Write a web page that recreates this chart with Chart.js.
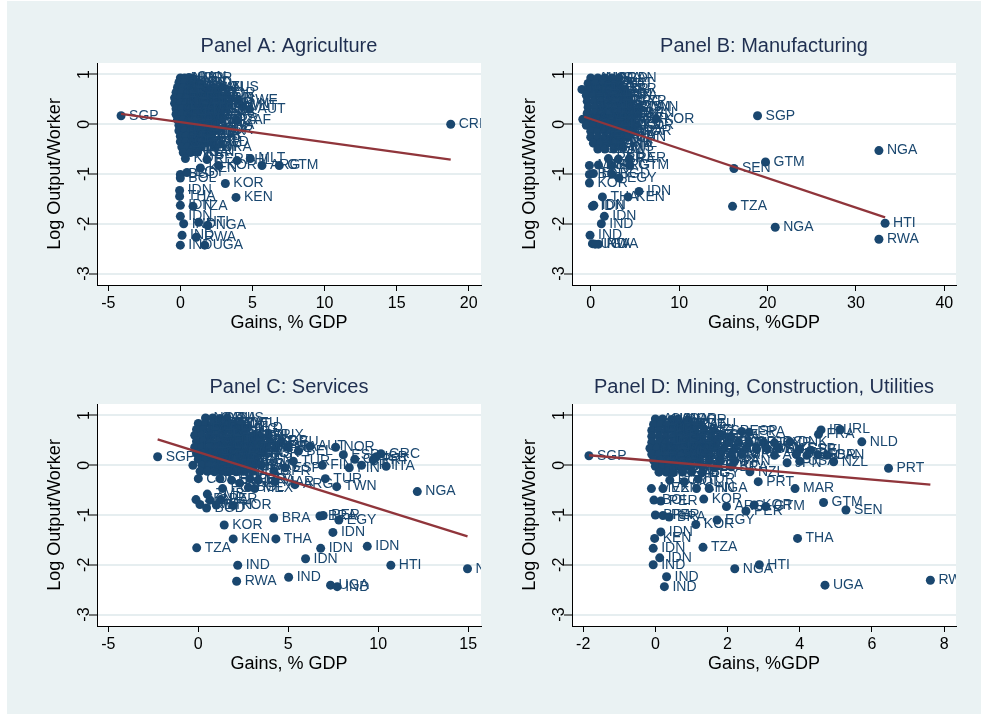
<!DOCTYPE html>
<html>
<head>
<meta charset="utf-8">
<script src="https://cdn.jsdelivr.net/npm/chart.js@4.4.1/dist/chart.umd.min.js"></script>
<style>
  body { margin: 0; background: #fff; }
  #wrap { position: absolute; left: 7px; top: 1px; width: 974px; height: 713px; background: #eaf2f3; }
  canvas { position: absolute; }
</style>
</head>
<body>
<div id="wrap"></div>
<canvas id="panelA" width="490" height="357" style="left:0px;top:0px"></canvas>
<canvas id="panelB" width="490" height="357" style="left:475px;top:0px"></canvas>
<canvas id="panelC" width="490" height="357" style="left:0px;top:341px"></canvas>
<canvas id="panelD" width="490" height="357" style="left:475px;top:341px"></canvas>
<script>
// tick labels
const yTicks = [-3, -2, -1, 0, 1];
const agriTicks = [-5, 0, 5, 10, 15, 20];
const manuTicks = [0, 10, 20, 30, 40];
const servTicks = [-5, 0, 5, 10, 15];
const minTicks = [-2, 0, 2, 4, 6, 8];

// [gain % GDP, log output/worker, country]
const agriPts = [
  [-4.11, 0.17, "SGP"], [18.75, 0.0, "CRI"],
  [0.0, 0.93, "AUS"], [0.3, 0.93, "NOR"], [0.6, 0.94, "CAN"], [0.9, 0.92, "NOR"],
  [-0.1, 0.84, "USA"], [0.3, 0.84, "NLD"], [0.7, 0.83, "AUS"], [1.1, 0.84, "NLD"],
  [-0.2, 0.74, "GBR"], [0.2, 0.74, "DNK"], [0.6, 0.73, "FRA"], [1.0, 0.74, "BEL"], [1.4, 0.75, "USA"], [1.8, 0.73, "CAN"], [2.3, 0.74, "NZL"], [2.9, 0.75, "AUS"],
  [-0.3, 0.64, "DEU"], [0.1, 0.64, "JPN"], [0.5, 0.63, "FIN"], [0.9, 0.64, "SWE"], [1.3, 0.64, "ITA"], [1.7, 0.63, "ISR"], [2.1, 0.64, "IRL"], [2.5, 0.63, "NOR"],
  [-0.4, 0.53, "HKG"], [0.0, 0.53, "ESP"], [0.4, 0.52, "AUT"], [0.8, 0.53, "DNK"], [1.2, 0.53, "FRA"], [1.6, 0.52, "GBR"], [2.0, 0.53, "BEL"], [2.5, 0.52, "NLD"], [3.0, 0.53, "FIN"], [4.0, 0.49, "SWE"],
  [-0.4, 0.42, "TWN"], [0.0, 0.42, "KOR"], [0.4, 0.42, "ITA"], [0.8, 0.41, "ESP"], [1.2, 0.42, "GRC"], [1.6, 0.42, "PRT"], [2.0, 0.41, "JPN"], [2.4, 0.42, "DEU"], [2.9, 0.42, "ISR"], [3.4, 0.41, "TWN"],
  [-0.3, 0.31, "CHL"], [0.1, 0.31, "MEX"], [0.5, 0.31, "ARG"], [0.9, 0.3, "URY"], [1.3, 0.31, "GRC"], [1.7, 0.31, "MYS"], [2.1, 0.3, "PRT"], [2.6, 0.31, "ESP"], [3.1, 0.31, "IRL"], [4.3, 0.36, "MLT"], [4.8, 0.3, "AUT"],
  [-0.3, 0.2, "VEN"], [0.1, 0.2, "ZAF"], [0.5, 0.2, "MUS"], [0.9, 0.19, "CHL"], [1.3, 0.2, "BWA"], [1.7, 0.2, "MEX"], [2.2, 0.19, "URY"], [2.7, 0.2, "ARG"],
  [-0.2, 0.09, "COL"], [0.2, 0.09, "BRA"], [0.6, 0.08, "TUR"], [1.0, 0.09, "CRI"], [1.4, 0.09, "MYS"], [1.8, 0.08, "VEN"], [2.3, 0.09, "COL"], [2.8, 0.09, "BRA"], [3.9, 0.08, "ZAF"],
  [-0.1, -0.02, "THA"], [0.3, -0.02, "PER"], [0.7, -0.03, "TUR"], [1.1, -0.02, "ECU"], [1.5, -0.02, "CRI"], [1.9, -0.03, "MUS"], [2.4, -0.02, "BWA"],
  [-0.1, -0.13, "PHL"], [0.3, -0.13, "MAR"], [0.7, -0.14, "EGY"], [1.1, -0.13, "CHN"], [1.5, -0.13, "THA"], [2.0, -0.14, "PER"], [2.4, -0.11, "KOR"],
  [0.0, -0.24, "BOL"], [0.4, -0.24, "LKA"], [0.8, -0.25, "PAK"], [1.2, -0.24, "GHA"], [1.6, -0.24, "ZMB"], [2.0, -0.25, "PHL"],
  [0.0, -0.35, "MAR"], [0.4, -0.35, "CHN"], [0.8, -0.36, "IND"], [1.2, -0.35, "EGY"], [1.6, -0.35, "BOL"], [2.1, -0.36, "BGD"],
  [0.1, -0.46, "SEN"], [0.5, -0.46, "GHA"], [0.9, -0.47, "ZMB"], [1.4, -0.46, "MWI"], [2.4, -0.46, "BRA"],
  [0.2, -0.57, "ETH"], [0.7, -0.57, "NGA"], [1.2, -0.56, "KEN"],
  [0.35, -0.69, "KOR"], [1.85, -0.71, "PER"], [3.93, -0.73, "PHL"], [4.85, -0.69, "MLT"],
  [2.65, -0.83, "KOR"], [5.66, -0.83, "ARG"], [6.86, -0.83, "GTM"], [1.39, -0.88, "KEN"],
  [0.0, -1.01, "BGD"], [0.46, -0.97, "EGY"], [0.0, -1.08, "BOL"],
  [3.12, -1.19, "KOR"], [3.86, -1.47, "KEN"],
  [-0.05, -1.33, "IDN"], [-0.05, -1.45, "THA"], [0.0, -1.63, "IDN"], [0.88, -1.65, "TZA"],
  [0.0, -1.85, "IDN"], [0.23, -2.0, "IND"], [1.27, -1.97, "HTI"], [1.9, -2.03, "NGA"],
  [0.12, -2.23, "IND"], [1.1, -2.27, "RWA"], [0.0, -2.43, "IND"], [1.69, -2.43, "UGA"]
];
const agriFit = [[-4.11, 0.21], [18.75, -0.71]];

const manuPts = [
  [18.87, 0.17, "SGP"], [32.6, -0.53, "NGA"], [19.77, -0.76, "GTM"], [16.2, -0.89, "SEN"],
  [16.04, -1.65, "TZA"], [20.87, -2.07, "NGA"], [33.3, -1.99, "HTI"], [32.6, -2.31, "RWA"],
  [7.38, 0.11, "KOR"],
  [0.0, 0.93, "AUS"], [0.8, 0.93, "NOR"], [1.6, 0.93, "USA"], [2.4, 0.93, "NLD"], [3.2, 0.93, "CAN"],
  [-0.3, 0.82, "DNK"], [0.5, 0.82, "SWE"], [1.3, 0.82, "BEL"], [2.1, 0.82, "FRA"], [3.0, 0.82, "AUT"],
  [-1.0, 0.7, "IRL"], [-0.2, 0.7, "JPN"], [0.6, 0.7, "FIN"], [1.4, 0.7, "DEU"], [2.2, 0.7, "GBR"], [3.0, 0.7, "ITA"], [3.9, 0.7, "ISR"],
  [-0.5, 0.58, "HKG"], [0.3, 0.58, "NZL"], [1.1, 0.58, "ESP"], [1.9, 0.58, "AUS"], [2.7, 0.58, "DNK"], [3.5, 0.58, "FIN"], [4.3, 0.58, "ITA"],
  [-0.4, 0.46, "FRA"], [0.4, 0.46, "BEL"], [1.2, 0.46, "GBR"], [2.0, 0.46, "JPN"], [2.8, 0.46, "ESP"], [3.6, 0.46, "GRC"], [4.4, 0.46, "CYP"],
  [-0.3, 0.34, "NOR"], [0.5, 0.34, "DEU"], [1.3, 0.34, "PRT"], [2.1, 0.34, "GRC"], [2.9, 0.34, "ISR"], [3.7, 0.34, "MYS"], [4.5, 0.34, "TWN"], [5.4, 0.34, "TWN"],
  [-0.4, 0.22, "AUT"], [0.4, 0.22, "CHL"], [1.2, 0.22, "MEX"], [2.0, 0.22, "URY"], [2.8, 0.22, "ARG"], [3.6, 0.22, "VEN"], [4.4, 0.22, "ZAF"], [5.2, 0.22, "BRN"],
  [-0.9, 0.1, "SWE"], [-0.1, 0.1, "ARG"], [0.7, 0.1, "ZAF"], [1.5, 0.1, "MUS"], [2.3, 0.1, "BWA"], [3.1, 0.1, "CHL"], [3.9, 0.1, "MEX"], [4.7, 0.1, "TUR"],
  [-0.5, -0.02, "URY"], [0.3, -0.02, "BRA"], [1.1, -0.02, "COL"], [1.9, -0.02, "TUR"], [2.7, -0.02, "CRI"], [3.5, -0.02, "MYS"], [4.3, -0.02, "COL"], [5.1, -0.02, "KOR"],
  [0.0, -0.14, "VEN"], [0.8, -0.14, "CRI"], [1.6, -0.14, "THA"], [2.4, -0.14, "ECU"], [3.2, -0.14, "PER"], [4.0, -0.14, "BRA"], [4.8, -0.14, "KOR"],
  [0.0, -0.26, "PHL"], [0.8, -0.26, "MAR"], [1.6, -0.26, "EGY"], [2.4, -0.26, "CHN"], [3.2, -0.26, "THA"], [4.2, -0.26, "CHN"],
  [0.3, -0.38, "BOL"], [1.1, -0.38, "LKA"], [1.9, -0.38, "PAK"], [2.7, -0.38, "ZMB"], [3.5, -0.38, "PHL"],
  [0.8, -0.5, "GHA"], [1.6, -0.5, "SEN"], [2.6, -0.5, "MWI"], [3.6, -0.47, "INS"],
  [2.0, -0.69, "PER"], [3.13, -0.7, "BRA"], [4.37, -0.69, "PER"],
  [-0.15, -0.83, "MAR"], [0.87, -0.82, "PHL"], [2.37, -0.83, "ARG"], [4.44, -0.83, "GTM"],
  [-0.15, -1.01, "BOL"], [0.3, -0.99, "EGY"], [2.37, -1.0, "BGD"], [3.2, -1.08, "EGY"],
  [-0.15, -1.18, "KOR"], [5.46, -1.35, "IDN"], [1.32, -1.46, "THA"], [4.22, -1.46, "KEN"],
  [0.19, -1.65, "IDN"], [0.35, -1.63, "IDN"], [1.54, -1.85, "IDN"], [1.2, -2.0, "IND"],
  [-0.08, -2.23, "IND"], [0.19, -2.4, "UGA"], [0.87, -2.41, "RWA"], [0.5, -2.41, "IND"]
];
const manuFit = [[-0.75, 0.15], [33.3, -1.87]];

const servPts = [
  [-2.26, 0.17, "SGP"], [14.96, -2.08, "NGA"], [12.17, -0.53, "NGA"], [10.7, -2.01, "HTI"],
  [9.39, -1.63, "IDN"], [6.8, -1.67, "IDN"], [7.48, -1.35, "IDN"], [5.96, -1.88, "IDN"],
  [5.02, -2.25, "IND"], [7.35, -2.41, "UGA"], [7.72, -2.44, "IND"], [2.19, -2.01, "IND"],
  [2.13, -2.33, "RWA"], [-0.09, -1.66, "TZA"], [1.94, -1.48, "KEN"], [4.31, -1.48, "THA"],
  [1.44, -1.2, "KOR"], [4.19, -1.06, "BRA"], [6.76, -1.02, "BRA"], [6.94, -1.01, "PER"],
  [7.81, -1.1, "EGY"], [7.69, -0.43, "TWN"], [7.06, -0.27, "TUR"],
  [10.44, -0.02, "ITA"], [9.07, 0.0, "PRT"], [8.39, -0.05, "FIN"], [6.89, 0.0, "FIN"],
  [10.15, 0.23, "GRC"], [7.63, 0.36, "NOR"], [8.06, 0.21, "ESP"], [8.7, 0.12, "CYP"],
  [9.72, 0.11, "PRT"], [9.9, 0.17, "ISR"], [5.56, 0.28, "BEL"], [6.2, 0.38, "AUT"],
  [5.28, 0.08, "TUR"], [4.81, -0.05, "ESP"],
  [0.4, 0.95, "NOR"], [0.8, 0.95, "CAN"], [1.2, 0.94, "USA"], [1.6, 0.95, "AUS"],
  [0.0, 0.84, "DNK"], [0.4, 0.84, "SWE"], [0.8, 0.83, "NLD"], [1.2, 0.84, "BEL"], [1.6, 0.84, "FRA"], [2.0, 0.83, "AUT"], [2.4, 0.84, "DEU"],
  [-0.1, 0.72, "JPN"], [0.3, 0.72, "FIN"], [0.7, 0.71, "GBR"], [1.1, 0.72, "IRL"], [1.5, 0.72, "ITA"], [1.9, 0.71, "ISR"], [2.3, 0.72, "HKG"], [2.7, 0.74, "NLD"],
  [-0.2, 0.6, "NZL"], [0.2, 0.6, "ESP"], [0.6, 0.59, "DNK"], [1.0, 0.6, "FRA"], [1.4, 0.6, "DEU"], [1.8, 0.59, "SWE"], [2.2, 0.6, "BEL"], [2.6, 0.6, "GBR"], [3.0, 0.59, "JPN"], [3.4, 0.6, "ISR"], [3.9, 0.6, "LUX"],
  [-0.1, 0.48, "AUS"], [0.3, 0.48, "CAN"], [0.7, 0.47, "ITA"], [1.1, 0.48, "AUT"], [1.5, 0.48, "FIN"], [1.9, 0.47, "IRL"], [2.3, 0.48, "NZL"], [2.7, 0.48, "HKG"], [3.1, 0.47, "GRC"], [3.5, 0.48, "ESP"], [4.0, 0.48, "SGP"], [4.6, 0.47, "DEU"],
  [-0.2, 0.36, "USA"], [0.2, 0.36, "TWN"], [0.6, 0.35, "KOR"], [1.0, 0.36, "PRT"], [1.4, 0.36, "GRC"], [1.8, 0.35, "CYP"], [2.2, 0.36, "MLT"], [2.6, 0.36, "ISR"], [3.0, 0.35, "TWN"], [3.4, 0.36, "PRT"], [3.8, 0.36, "MYS"], [4.3, 0.35, "CHL"], [5.0, 0.36, "ITA"],
  [-0.1, 0.24, "MEX"], [0.3, 0.24, "ARG"], [0.7, 0.23, "URY"], [1.1, 0.24, "CHL"], [1.5, 0.24, "ZAF"], [1.9, 0.23, "MUS"], [2.3, 0.24, "BWA"], [2.7, 0.24, "VEN"], [3.1, 0.23, "MYS"], [3.5, 0.24, "KOR"],
  [0.0, 0.12, "BRA"], [0.4, 0.12, "COL"], [0.8, 0.11, "TUR"], [1.2, 0.12, "CRI"], [1.6, 0.12, "MEX"], [2.0, 0.11, "ARG"], [2.4, 0.12, "URY"], [2.8, 0.12, "ZAF"], [3.2, 0.11, "VEN"],
  [-0.3, 0.0, "THA"], [0.2, 0.0, "PER"], [0.6, -0.01, "ECU"], [1.0, 0.0, "COL"], [1.4, 0.0, "BRA"], [1.8, -0.01, "CRI"], [2.2, 0.0, "TUR"], [2.6, 0.0, "MUS"], [3.0, -0.01, "BWA"], [3.5, 0.0, "PAN"],
  [0.1, -0.12, "PHL"], [0.5, -0.12, "MAR"], [0.9, -0.13, "EGY"], [1.3, -0.12, "CHN"], [1.7, -0.12, "THA"], [2.1, -0.13, "BOL"], [2.5, -0.12, "PER"], [3.0, -0.12, "ECU"], [4.2, -0.12, "SPR"],
  [0.0, -0.27, "COL"], [1.2, -0.27, "CHN"], [1.85, -0.3, "ECU"], [2.87, -0.27, "PER"], [3.33, -0.3, "BRA"], [4.26, -0.33, "MAR"],
  [2.3, -0.36, "PHL"], [5.37, -0.39, "ARG"], [3.13, -0.47, "MEX"], [2.78, -0.45, "BOL"], [1.35, -0.47, "EGY"],
  [0.5, -0.58, "ZMB"], [-0.13, -0.69, "SEN"], [0.65, -0.7, "GHA"], [1.24, -0.69, "PER"],
  [0.09, -0.79, "MWI"], [1.0, -0.8, "ETH"], [1.94, -0.81, "KOR"], [0.46, -0.86, "BGD"]
];
const servFit = [[-2.26, 0.52], [14.96, -1.43]];

const minPts = [
  [-1.84, 0.19, "SGP"], [7.62, -2.31, "RWA"], [4.7, -2.41, "UGA"], [3.94, -1.47, "THA"],
  [2.88, -2.0, "HTI"], [2.2, -2.08, "NGA"], [1.32, -1.65, "TZA"], [-0.06, -2.0, "IND"],
  [0.31, -2.24, "IND"], [0.25, -2.44, "IND"], [0.12, -1.86, "IDN"], [-0.06, -1.67, "IDN"],
  [-0.02, -1.47, "KEN"], [0.15, -1.34, "IDN"], [1.12, -1.19, "KOR"], [1.71, -1.1, "EGY"],
  [0.0, -1.0, "BRA"], [0.21, -1.01, "PER"], [0.38, -1.04, "BRA"],
  [4.66, -0.75, "GTM"], [5.28, -0.9, "SEN"], [3.87, -0.47, "MAR"], [2.85, -0.33, "PRT"],
  [6.46, -0.06, "PRT"], [5.72, 0.47, "NLD"], [5.12, 0.72, "IRL"], [4.59, 0.71, "IRL"],
  [4.52, 0.62, "FRA"], [4.94, 0.07, "NZL"],
  [2.51, -0.92, "PER"], [2.74, -0.8, "KOR"], [3.06, -0.83, "GTM"], [1.97, -0.83, "ARG"],
  [-0.04, -0.7, "BOL"], [0.15, -0.72, "PER"], [1.34, -0.68, "KOR"],
  [-0.11, -0.47, "MEX"], [0.21, -0.47, "VEN"], [1.14, -0.47, "CHN"], [1.49, -0.47, "NGA"],
  [0.4, -0.3, "ECU"], [1.19, -0.28, "TUR"], [0.8, -0.33, "COL"],
  [0.0, 0.93, "AUS"], [0.2, 0.93, "CAN"], [0.45, 0.92, "USA"], [0.63, 0.93, "NOR"], [0.9, 0.91, "NOR"],
  [-0.05, 0.82, "DNK"], [0.15, 0.82, "SWE"], [0.35, 0.81, "NLD"], [0.55, 0.82, "BEL"], [0.75, 0.82, "FRA"], [0.95, 0.81, "AUT"], [1.2, 0.82, "DEU"],
  [-0.1, 0.7, "JPN"], [0.1, 0.7, "FIN"], [0.3, 0.69, "GBR"], [0.5, 0.7, "IRL"], [0.7, 0.7, "ITA"], [0.9, 0.69, "ISR"], [1.1, 0.7, "HKG"], [1.35, 0.7, "NZL"], [1.6, 0.69, "ESP"], [2.39, 0.68, "ESP"], [2.6, 0.66, "FRA"],
  [-0.1, 0.58, "DNK"], [0.1, 0.58, "FRA"], [0.3, 0.57, "DEU"], [0.5, 0.58, "SWE"], [0.7, 0.58, "BEL"], [0.9, 0.57, "GBR"], [1.1, 0.58, "JPN"], [1.3, 0.58, "ISR"], [1.55, 0.57, "AUS"], [1.8, 0.58, "CAN"], [2.1, 0.57, "ITA"],
  [-0.1, 0.46, "AUT"], [0.1, 0.46, "FIN"], [0.3, 0.45, "IRL"], [0.5, 0.46, "NZL"], [0.7, 0.46, "HKG"], [0.9, 0.45, "GRC"], [1.1, 0.46, "ESP"], [1.3, 0.46, "SGP"], [1.5, 0.45, "DEU"], [1.7, 0.46, "USA"], [2.0, 0.45, "TWN"], [2.3, 0.46, "KOR"], [2.6, 0.45, "PRT"], [3.0, 0.46, "GRC"], [3.3, 0.45, "CYP"], [3.73, 0.47, "DNK"],
  [-0.15, 0.34, "MLT"], [0.05, 0.34, "ISR"], [0.25, 0.33, "TWN"], [0.45, 0.34, "PRT"], [0.65, 0.34, "MYS"], [0.85, 0.33, "CHL"], [1.05, 0.34, "ITA"], [1.25, 0.34, "MEX"], [1.45, 0.33, "ARG"], [1.65, 0.34, "URY"], [1.9, 0.33, "CHL"], [2.2, 0.34, "ZAF"], [2.5, 0.33, "MUS"], [2.8, 0.34, "BWA"], [3.1, 0.33, "VEN"], [3.4, 0.34, "MYS"], [4.0, 0.32, "ESP"], [4.3, 0.3, "BEL"],
  [-0.1, 0.22, "KOR"], [0.1, 0.22, "BRA"], [0.3, 0.21, "COL"], [0.5, 0.22, "TUR"], [0.7, 0.22, "CRI"], [0.9, 0.21, "MEX"], [1.1, 0.22, "ARG"], [1.3, 0.22, "URY"], [1.5, 0.21, "ZAF"], [1.8, 0.22, "VEN"], [2.1, 0.21, "ITA"], [2.4, 0.22, "GRC"], [3.3, 0.2, "AUT"], [3.9, 0.22, "DEU"], [4.2, 0.2, "ISR"], [4.5, 0.21, "GBR"], [4.75, 0.2, "CAN"],
  [-0.05, 0.1, "THA"], [0.15, 0.1, "PER"], [0.35, 0.09, "ECU"], [0.55, 0.1, "COL"], [0.75, 0.1, "BRA"], [0.95, 0.09, "CRI"], [1.2, 0.1, "TUR"], [1.5, 0.09, "MUS"], [1.8, 0.1, "BWA"], [2.2, 0.09, "PAN"], [3.65, 0.05, "JPN"], [4.0, 0.08, "USA"],
  [0.0, -0.02, "PHL"], [0.2, -0.02, "MAR"], [0.4, -0.03, "EGY"], [0.6, -0.02, "CHN"], [0.8, -0.02, "THA"], [1.0, -0.03, "BOL"], [1.3, -0.02, "PER"], [1.7, -0.02, "ECU"], [2.1, -0.03, "BRA"],
  [0.1, -0.14, "LKA"], [0.3, -0.14, "PAK"], [0.5, -0.15, "GHA"], [0.75, -0.14, "ZMB"], [1.0, -0.14, "PHL"], [1.3, -0.15, "EGY"], [2.62, -0.13, "NZL"]
];
const minFit = [[-1.84, 0.2], [7.62, -0.39]];

const family = "'Liberation Sans', Arial, Helvetica, sans-serif";

// white plot region
const plotBg = {
  id: "plotBg",
  beforeDraw(chart) {
    const a = chart.chartArea;
    chart.ctx.save();
    chart.ctx.fillStyle = "#ffffff";
    chart.ctx.fillRect(a.left, a.top, a.right - a.left, a.bottom - a.top);
    chart.ctx.restore();
  },
};

// country codes next to the markers
const pointLabels = {
  id: "pointLabels",
  afterDatasetDraw(chart, args) {
    const ds = chart.data.datasets[args.index];
    if (!ds.codes) return;
    const ctx = chart.ctx;
    const a = chart.chartArea;
    ctx.save();
    ctx.beginPath();
    ctx.rect(a.left, a.top, a.right - a.left, a.bottom - a.top);
    ctx.clip();
    ctx.font = "14px " + family;
    ctx.fillStyle = "#1a476f";
    ctx.textBaseline = "middle";
    args.meta.data.forEach((pt, i) => {
      ctx.fillText(ds.codes[i], pt.x + 8, pt.y);
    });
    ctx.restore();
  },
};

// vertical y tick labels, like stata
const yTickLabels = {
  id: "yTickLabels",
  afterDraw(chart) {
    const sc = chart.scales.y;
    const ctx = chart.ctx;
    ctx.save();
    ctx.font = "16px " + family;
    ctx.fillStyle = "#000";
    ctx.textAlign = "center";
    ctx.textBaseline = "middle";
    yTicks.forEach((v) => {
      ctx.save();
      ctx.translate(sc.right - 12, sc.getPixelForValue(v));
      ctx.rotate(-Math.PI / 2);
      ctx.fillText(String(v), 0, 0);
      ctx.restore();
    });
    ctx.restore();
  },
};

function makePanel(canvasId, titleText, xTitle, pts, fit, xMin, xMax, xTicks) {
  const data = {
    datasets: [
      {
        data: fit.map((p) => ({ x: p[0], y: p[1] })),
        showLine: true,
        borderColor: "#90353b",
        borderWidth: 2.3,
        pointRadius: 0,
      },
      {
        data: pts.map((p) => ({ x: p[0], y: p[1] })),
        codes: pts.map((p) => p[2]),
        pointRadius: 4.5,
        pointBackgroundColor: "#1a476f",
        pointBorderColor: "#1a476f",
        pointBorderWidth: 0,
      },
    ],
  };

  const config = {
    type: "scatter",
    data: data,
    options: {
      responsive: false,
      animation: false,
      events: [],
      layout: { padding: { top: 34, right: 9, bottom: 0, left: 0 } },
      plugins: {
        legend: { display: false },
        tooltip: { enabled: false },
        title: {
          display: true,
          text: titleText,
          fullSize: false,
          color: "#1f2f50",
          font: { family: family, size: 20, weight: "normal" },
          padding: { top: 0, bottom: 5 },
        },
      },
      scales: {
        x: {
          type: "linear",
          min: xMin,
          max: xMax,
          afterBuildTicks: (s) => {
            s.ticks = xTicks.map((v) => ({ value: v }));
          },
          afterFit: (s) => {
            s.height = 72;
          },
          grid: { drawOnChartArea: false, tickLength: 6, color: "#000", tickColor: "#000" },
          border: { color: "#000", width: 1 },
          ticks: { autoSkip: false, maxRotation: 0, color: "#000", padding: 3, font: { family: family, size: 16 } },
          title: { display: true, text: xTitle, color: "#000", font: { family: family, size: 18 }, padding: { top: 0, bottom: 23 } },
        },
        y: {
          type: "linear",
          min: -3.23,
          max: 1.23,
          afterBuildTicks: (s) => {
            s.ticks = yTicks.map((v) => ({ value: v }));
          },
          afterFit: (s) => {
            s.width = 97;
          },
          grid: { color: "#e6eef0", lineWidth: 2, tickLength: 8, tickColor: "#000", tickWidth: 1 },
          border: { color: "#000", width: 1 },
          ticks: { display: false },
          title: { display: true, text: "Log Output/Worker", color: "#000", font: { family: family, size: 18 }, padding: { top: 44, bottom: 0 } },
        },
      },
    },
    plugins: [plotBg, pointLabels, yTickLabels],
  };

  return new Chart(document.getElementById(canvasId), config);
}

makePanel("panelA", "Panel A: Agriculture", "Gains, % GDP", agriPts, agriFit, -5.78, 20.85, agriTicks);
makePanel("panelB", "Panel B: Manufacturing", "Gains, %GDP", manuPts, manuFit, -2.12, 41.32, manuTicks);
makePanel("panelC", "Panel C: Services", "Gains, % GDP", servPts, servFit, -5.63, 15.71, servTicks);
makePanel("panelD", "Panel D: Mining, Construction, Utilities", "Gains, %GDP", minPts, minFit, -2.31, 8.33, minTicks);
</script>
</body>
</html>
